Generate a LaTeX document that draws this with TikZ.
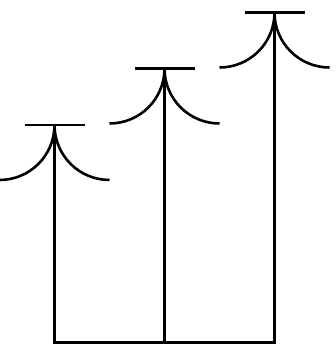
\documentclass[tikz,border=0pt]{standalone}
\tikzset{wire/.style={draw=black,line width=2.6pt,line cap=butt,line join=miter},
 antenna/.pic={
  \coordinate (-feed) at (0,0);
  \draw[wire] (-30,0) -- (30,0);
  \draw[wire] (0,0) .. controls (0,-30.4) and (-24.6,-55) .. (-55,-55);
  \draw[wire] (0,0) .. controls (0,-30.4) and (24.6,-55) .. (55,-55);
 }}
\begin{document}
\begin{tikzpicture}[x=1pt,y=1pt]
\useasboundingbox (0,0) rectangle (335,351);
\pic (a) at (54.5,226) {antenna};
\pic (b) at (164.5,282.5) {antenna};
\pic (c) at (274.5,338.5) {antenna};
\coordinate (ab) at (54.5,8.3);
\coordinate (bb) at (164.5,8.3);
\coordinate (cb) at (274.5,8.3);
\draw[wire] (a-feed) -- (ab) -- (cb) -- (c-feed);
\draw[wire] (b-feed) -- (bb);
\end{tikzpicture}
\end{document}
